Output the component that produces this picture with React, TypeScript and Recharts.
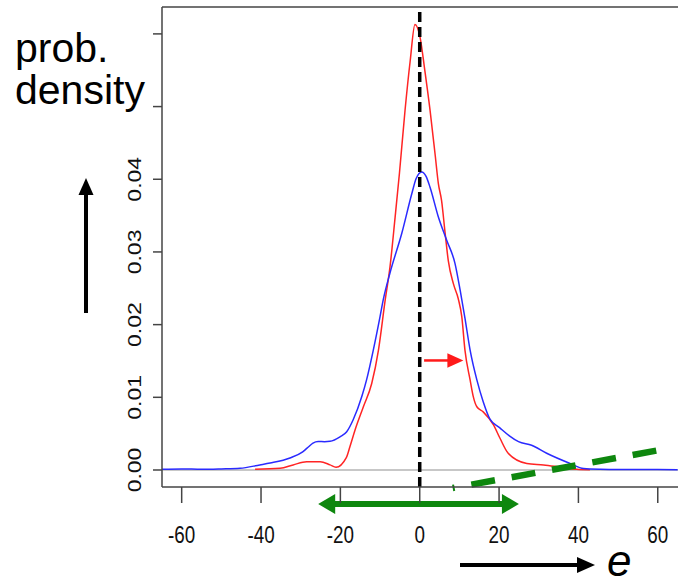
import React from 'react';
import { LineChart, Line, XAxis, YAxis, ReferenceLine, ReferenceDot } from 'recharts';

const X_TICKS = [-60, -40, -20, 0, 20, 40, 60];
const Y_TICKS = [0, 0.01, 0.02, 0.03, 0.04, 0.05, 0.06];
const Y_LABELED = [0, 0.01, 0.02, 0.03, 0.04];

const blueX = [-65, -60, -55, -50, -45.3, -40.3, -37.7, -32.7, -29.5, -28.0, -26.9, -25.6, -24.0, -22.6, -20.1, -18.4, -16.8, -14.6, -13.4, -11.7, -10.0, -9.2, -7.5, -4.5, -2.0, -0.9, 0.5, 1.6, 2.6, 4.7, 6.8, 8.9, 10.2, 11.4, 12.7, 14.4, 16.0, 17.7, 20.2, 22.6, 24.9, 28.2, 32.0, 37.9, 41.3, 45.5, 50, 55, 60, 65];
const blueY = [0.0001, 0.00015, 0.0001, 0.00015, 0.00023, 0.0007, 0.00096, 0.00165, 0.0025, 0.0032, 0.0037, 0.00392, 0.00389, 0.00395, 0.00457, 0.00526, 0.00687, 0.0101, 0.0124, 0.0165, 0.0211, 0.0234, 0.0271, 0.0326, 0.038, 0.0401, 0.041, 0.0404, 0.0389, 0.0348, 0.0316, 0.0284, 0.0247, 0.0209, 0.0165, 0.0124, 0.0094, 0.007, 0.0058, 0.0047, 0.0039, 0.0034, 0.0023, 0.0009, 0.0002, 0.0001, 0.00007, 0.00007, 0.00007, 0.00005];

const redX = [-41.5, -35.2, -31.9, -28.5, -25.1, -22.6, -21.1, -18.5, -17.6, -16.3, -14.2, -12.1, -10.4, -8.7, -7.5, -6.2, -5.1, -3.7, -2.4, -1.2, 0.1, 1.3, 2.6, 3.9, 4.7, 5.5, 6.4, 7.2, 8.5, 9.7, 10.6, 11.4, 12.7, 13.5, 14.4, 16.0, 18.6, 20.2, 22.3, 27.0, 31.2, 35.4, 39.6, 42.9];
const redY = [0.0001, 0.00023, 0.0007, 0.00114, 0.00114, 0.0007, 0.00037, 0.0017, 0.0032, 0.0055, 0.0087, 0.0119, 0.0165, 0.0234, 0.0279, 0.0348, 0.0409, 0.0495, 0.0563, 0.0613, 0.0595, 0.0549, 0.0495, 0.0433, 0.0394, 0.0371, 0.0326, 0.0288, 0.0256, 0.0236, 0.0211, 0.0165, 0.0124, 0.0101, 0.0087, 0.008, 0.0062, 0.0044, 0.0023, 0.0009, 0.0007, 0.0004, 0.0001, 0.00004];

const X_DOMAIN = [-64.96, 65.1];
const Y_DOMAIN = [-0.00234, 0.0637];

const FONT = '"Liberation Sans", Arial, sans-serif';
const GREEN = '#0e870e';
const AXIS = '#444';

const blueData = blueX.map((x, i) => ({ x, y: blueY[i] }));
const redData = redX.map((x, i) => ({ x, y: redY[i] }));

const YTick = ({ x, y, payload }: any) => {
  if (!Y_LABELED.includes(payload.value)) return null;
  return (
    <text
      transform={`translate(${x - 10},${y}) scale(0.82,1) rotate(-90)`}
      textAnchor="middle"
      fontSize={23}
      fontFamily={FONT}
      fill="#111"
    >
      {payload.value.toFixed(2)}
    </text>
  );
};

const XTick = ({ x, y, payload }: any) => (
  <text
    transform={`translate(${x},${y + 38}) scale(0.82,1)`}
    textAnchor="middle"
    fontSize={23}
    fontFamily={FONT}
    fill="#111"
  >
    {payload.value}
  </text>
);

const headRight = (len: number, half: number, color: string) => (p: any) => (
  <polygon points={`${p.cx},${p.cy} ${p.cx - len},${p.cy - half} ${p.cx - len},${p.cy + half}`} fill={color} />
);
const headLeft = (len: number, half: number, color: string) => (p: any) => (
  <polygon points={`${p.cx},${p.cy} ${p.cx + len},${p.cy - half} ${p.cx + len},${p.cy + half}`} fill={color} />
);

export default function App() {
  return (
    <div style={{ position: 'absolute', left: 0, top: 0, width: 678, height: 580, overflow: 'hidden', background: '#fff' }}>
      <LineChart width={678} height={580} data={blueData} margin={{ top: 7, right: 0, bottom: 33, left: 102 }}>
        <XAxis
          type="number"
          dataKey="x"
          domain={X_DOMAIN}
          ticks={X_TICKS}
          allowDataOverflow
          height={60}
          tickSize={16}
          axisLine={{ stroke: AXIS, strokeWidth: 1.5 }}
          tickLine={{ stroke: AXIS, strokeWidth: 1.5 }}
          tick={<XTick />}
        />
        <YAxis
          type="number"
          dataKey="y"
          domain={Y_DOMAIN}
          ticks={Y_TICKS}
          allowDataOverflow
          width={60}
          tickSize={9}
          axisLine={{ stroke: AXIS, strokeWidth: 1.5 }}
          tickLine={{ stroke: AXIS, strokeWidth: 1.5 }}
          tick={<YTick />}
        />
        <ReferenceLine y={Y_DOMAIN[1]} stroke={AXIS} strokeWidth={1.5} />
        <ReferenceLine y={0} stroke="#b5b5b5" strokeWidth={1.5} />
        <Line data={redData} dataKey="y" type="monotone" stroke="#ff2424" strokeWidth={1.5} dot={false} isAnimationActive={false} />
        <Line data={blueData} dataKey="y" type="monotone" stroke="#2a2aff" strokeWidth={1.5} dot={false} isAnimationActive={false} />
        <ReferenceLine
          segment={[{ x: 0, y: 0.063 }, { x: 0, y: Y_DOMAIN[0] }]}
          stroke="#000"
          strokeWidth={3.5}
          strokeDasharray="10 5"
          ifOverflow="visible"
        />
        {/* shift arrow */}
        <ReferenceLine segment={[{ x: 1.1, y: 0.01507 }, { x: 7.5, y: 0.01507 }]} stroke="#ff1a1a" strokeWidth={2.5} ifOverflow="visible" />
        <ReferenceDot x={11.0} y={0.01507} r={1} ifOverflow="visible" shape={headRight(16, 7.3, '#ff1a1a')} />
        {/* green range arrow below the axis */}
        <ReferenceLine segment={[{ x: -22, y: -0.00468 }, { x: 21.5, y: -0.00468 }]} stroke={GREEN} strokeWidth={6} ifOverflow="visible" />
        <ReferenceDot x={-25.6} y={-0.00468} r={1} ifOverflow="visible" shape={headLeft(17, 10, GREEN)} />
        <ReferenceDot x={25.0} y={-0.00468} r={1} ifOverflow="visible" shape={headRight(17, 10, GREEN)} />
        {/* green dashed slope */}
        <ReferenceLine
          segment={[{ x: 8.3, y: -0.00248 }, { x: 61.9, y: 0.00289 }]}
          stroke={GREEN}
          strokeWidth={6.5}
          strokeDasharray="24 17"
          strokeDashoffset={22}
          ifOverflow="visible"
        />
      </LineChart>
      <svg width={678} height={580} style={{ position: 'absolute', left: 0, top: 0, pointerEvents: 'none' }}>
        <text x={15} y={62} fontSize={41} fontFamily={FONT} fill="#000">prob.</text>
        <text x={15} y={104} fontSize={41} fontFamily={FONT} fill="#000">density</text>
        <line x1={86} y1={313} x2={86} y2={192} stroke="#000" strokeWidth={4} />
        <polygon points="86,178 78.5,195 93.5,195" fill="#000" />
        <line x1={460} y1={565} x2={580} y2={565} stroke="#000" strokeWidth={4} />
        <polygon points="595,565 577,557 577,573" fill="#000" />
        <text x={607} y={576} fontSize={44} fontStyle="italic" fontFamily={FONT} fill="#000">e</text>
      </svg>
    </div>
  );
}
